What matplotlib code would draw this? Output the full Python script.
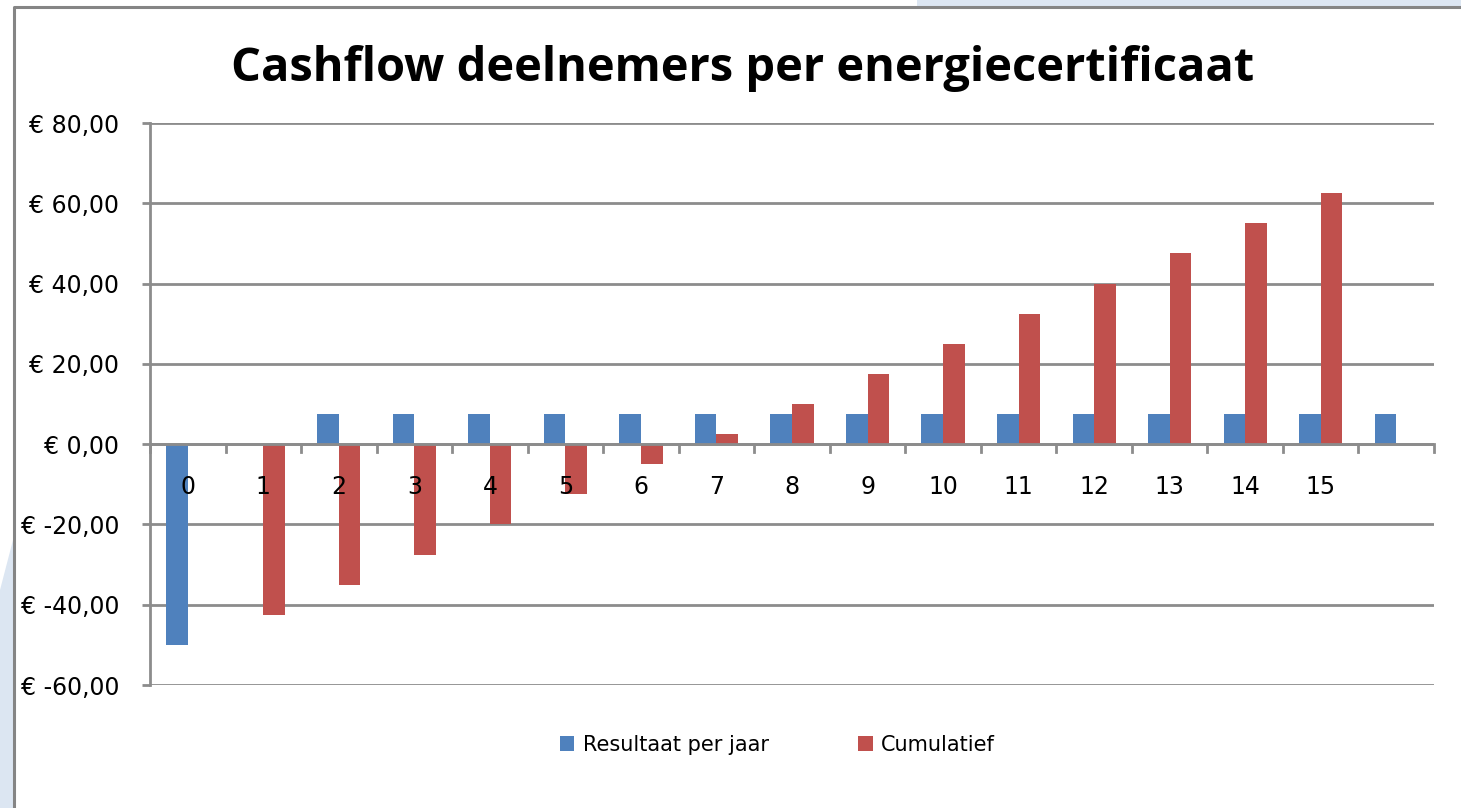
import numpy as np
import matplotlib
matplotlib.use('Agg')
import matplotlib.pyplot as plt
from matplotlib.patches import Rectangle, Polygon
from matplotlib.lines import Line2D
from matplotlib.ticker import FuncFormatter

# data
jaren = ['0', '1', '2', '3', '4', '5', '6', '7', '8', '9', '10', '11', '12', '13', '14', '15', '']
resultaat = [-50, np.nan] + [7.5] * 15
cumulatief = [np.nan, -42.5, -35, -27.5, -20, -12.5, -5, 2.5, 10, 17.5,
              25, 32.5, 40, 47.5, 55, 62.5, np.nan]
y_ticks = [-60, -40, -20, 0, 20, 40, 60, 80]

blauw = '#4F81BD'
rood = '#C0504D'
grijs = '#8c8c8c'

fig = plt.figure(figsize=(14.61, 8.08), dpi=100)
fig.patch.set_facecolor('white')

# light blue bits of the slide behind the chart, and the chart frame
fig.patches.append(Rectangle((917/1461, 1 - 7/808), 1, 7/808, transform=fig.transFigure,
                             facecolor='#dce6f2', edgecolor='none', zorder=0))
fig.patches.append(Polygon([(0, 0), (0, 1 - 590/808), (13/1461, 1 - 540/808), (13/1461, 0)],
                           closed=True, transform=fig.transFigure,
                           facecolor='#dce6f2', edgecolor='none', zorder=0))
fig.add_artist(Line2D([14/1461, 14/1461, 1], [0, 1 - 7/808, 1 - 7/808],
                      transform=fig.transFigure, color='#858585', lw=2.2))

ax = fig.add_axes([150/1461, 1 - 685/808, (1434 - 150)/1461, (685 - 123)/808])

x = np.arange(len(jaren))
w = 1 / 3.5
ax.bar(x - w/2, resultaat, width=w, color=blauw, label='Resultaat per jaar', zorder=2)
ax.bar(x + w/2, cumulatief, width=w, color=rood, label='Cumulatief', zorder=2)

ax.set_xlim(-0.5, len(jaren) - 0.5)
ax.set_ylim(-60, 80)
ax.set_yticks(y_ticks)
ax.yaxis.set_major_formatter(FuncFormatter(lambda v, p: '€ %d,00' % v))
ax.grid(axis='y', color=grijs, lw=2, zorder=1)
ax.tick_params(axis='y', length=6, width=2, color=grijs, labelsize=17, pad=16)
ax.tick_params(axis='x', length=0, labelbottom=False)

for s in ['top', 'right', 'bottom']:
    ax.spines[s].set_visible(False)
ax.spines['left'].set_color(grijs)
ax.spines['left'].set_linewidth(2)

# horizontal axis on zero with tick marks between the categories
ax.axhline(0, color=grijs, lw=2, zorder=3)
for b in np.arange(-0.5, len(jaren)):
    ax.plot([b, b], [0, -2], color=grijs, lw=2, zorder=3, clip_on=False)
for i, lab in enumerate(jaren):
    ax.text(i, -10.8, lab, ha='center', va='center', fontsize=17, zorder=4)

fig.text(0.508, 1 - 68/808, 'Cashflow deelnemers per energiecertificaat',
         ha='center', va='center', fontsize=33.8, fontweight='bold', family='Open Sans')

fig.legend(loc='center', bbox_to_anchor=(0.532, 1 - 745/808), ncol=2, frameon=False,
           fontsize=15, handlelength=0.7, handleheight=0.7, handletextpad=0.4,
           columnspacing=4.3)

fig.savefig('out.png', dpi=100, facecolor='white')
